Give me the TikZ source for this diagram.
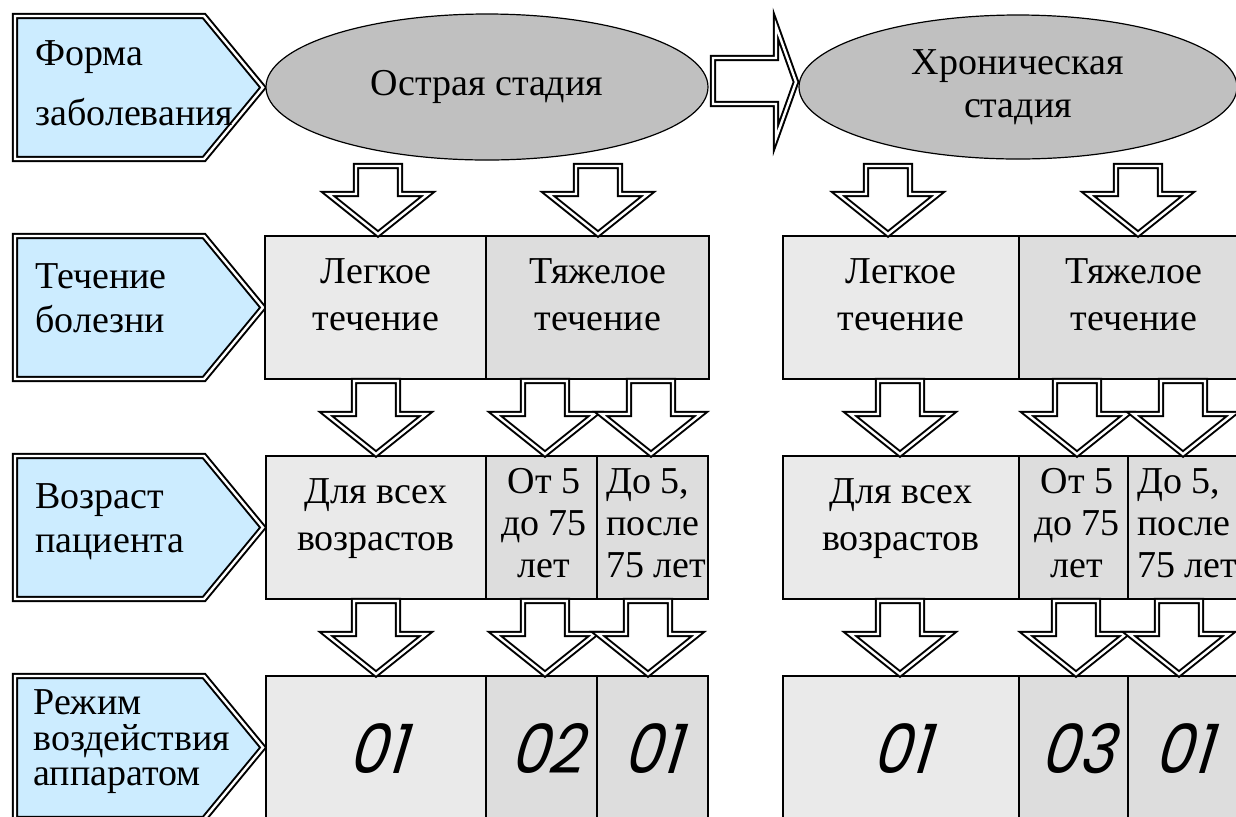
\documentclass[tikz,border=0pt]{standalone}
\usepackage{fontspec}
\setmainfont{Liberation Serif}
\newfontfamily\numfont{Poppins}[FakeSlant=0.3,FakeStretch=0.88]
\usetikzlibrary{shapes.geometric,fit}
\definecolor{lblue}{RGB}{204,236,255}
\definecolor{lg}{RGB}{234,234,234}
\definecolor{dg}{RGB}{221,221,221}
\definecolor{eg}{RGB}{192,192,192}
\tikzset{
  dbl/.style={draw=black, line width=1pt, double=white, double distance=1.2pt, line join=miter},
  lbl/.style={dbl, fill=lblue},
  barrow/.style={dbl, fill=white},
  box/.style={draw=black, line width=0.9pt, inner sep=0pt, rectangle},
  stage/.style={ellipse, draw=black, line width=0.6pt, fill=eg, inner sep=0pt,
    minimum width=221pt, minimum height=73pt, align=center},
  txt/.style={inner sep=0pt, anchor=base},
  txtl/.style={inner sep=0pt, anchor=base west},
  num/.style={inner sep=0pt, anchor=base, font=\numfont\fontsize{34}{34}\selectfont},
}
\newcommand\mlines[3]{{\fontsize{19}{#2}\selectfont\begin{tabular}[t]{@{}#1@{}}#3\end{tabular}}}
\newcommand\pent[2]{\draw[lbl] (15,#1) -- (204,#1) -- (263,{(#1+#2)/2}) -- (204,#2) -- (15,#2) -- cycle;}
\newcommand\darr[3]{\draw[barrow] (#1,#3) -- ++(-50,-40) -- ++(28,0) -- (#1-22,#2) -- (#1+22,#2) -- (#1+22,#3-40) -- ++(28,0) -- cycle;}
\begin{document}
\begin{tikzpicture}[x=0.5pt,y=-0.5pt]
\useasboundingbox (0,0) rectangle (1236,816);
\clip (0,0) rectangle (1236,816);
% left labels
\pent{16}{159}
\pent{236}{379}
\pent{456}{599}
\pent{676}{819}
\node[txtl] (l1) at (35,65) {\mlines{l}{30pt}{Форма\\заболевания}};
\node[txtl] (l2) at (35,288) {\mlines{l}{22pt}{Течение\\болезни}};
\node[txtl] (l3) at (35,508) {\mlines{l}{22pt}{Возраст\\пациента}};
\node[txtl] (l4) at (33,714) {\mlines{l}{17.5pt}{Режим\\воздействия\\аппаратом}};
% stages
\node[stage, font=\fontsize{19}{21.5}\selectfont] (e1) at (487,87) {Острая стадия};
\node[stage, minimum width=219pt, minimum height=72pt, font=\fontsize{19}{21.5}\selectfont] (e2) at (1018,87) {Хроническая\\стадия};
\draw[barrow] (796,82) -- (776,26) -- (776,58) -- (713,58) -- (713,104) -- (776,104) -- (776,138) -- cycle;
% row 2
\node[box, fill=lg, fit={(265,236) (486,379)}] (b2a) {};
\node[box, fill=dg, fit={(486,236) (709,379)}] (b2b) {};
\node[box, fill=lg, fit={(783,236) (1019,379)}] (b2c) {};
\node[box, fill=dg, fit={(1019,236) (1250,379)}] (b2d) {};
% row 3
\node[box, fill=lg, fit={(266,456) (486,599)}] (b3a) {};
\node[box, fill=dg, fit={(486,456) (597,599)}] (b3b) {};
\node[box, fill=dg, fit={(597,456) (708,599)}] (b3c) {};
\node[box, fill=lg, fit={(783,456) (1019,599)}] (b3d) {};
\node[box, fill=dg, fit={(1019,456) (1128,599)}] (b3e) {};
\node[box, fill=dg, fit={(1128,456) (1240,599)}] (b3f) {};
% row 4
\node[box, fill=lg, fit={(266,676) (486,840)}] (b4a) {};
\node[box, fill=dg, fit={(486,676) (597,840)}] (b4b) {};
\node[box, fill=dg, fit={(597,676) (708,840)}] (b4c) {};
\node[box, fill=lg, fit={(783,676) (1019,840)}] (b4d) {};
\node[box, fill=dg, fit={(1019,676) (1128,840)}] (b4e) {};
\node[box, fill=dg, fit={(1128,676) (1240,840)}] (b4f) {};
% arrows
\darr{378}{166}{234}
\darr{598}{166}{234}
\darr{888}{166}{234}
\darr{1138}{166}{234}
\darr{376}{381}{454}
\darr{545}{381}{454}
\darr{651}{381}{454}
\darr{900}{381}{454}
\darr{1077}{381}{454}
\darr{1183}{381}{454}
\darr{376}{601}{674}
\darr{545}{601}{674}
\darr{648}{601}{674}
\darr{900}{601}{674}
\darr{1076}{601}{674}
\darr{1179}{601}{674}
% texts
\node[txt] (t2a) at (376,283) {\mlines{c}{23.5pt}{Легкое\\течение}};
\node[txt] (t2b) at (598,283) {\mlines{c}{23.5pt}{Тяжелое\\течение}};
\node[txt] (t2c) at (901,283) {\mlines{c}{23.5pt}{Легкое\\течение}};
\node[txt] (t2d) at (1134,283) {\mlines{c}{23.5pt}{Тяжелое\\течение}};
\node[txt] (t3a) at (376,503) {\mlines{c}{23.5pt}{Для всех\\возрастов}};
\node[txt] (t3b) at (544,493) {\mlines{c}{21pt}{От 5\\до 75\\лет}};
\node[txtl] (t3c) at (606,493) {\mlines{l}{21pt}{До 5,\\после\\75 лет}};
\node[txt] (t3d) at (901,503) {\mlines{c}{23.5pt}{Для всех\\возрастов}};
\node[txt] (t3e) at (1077,493) {\mlines{c}{21pt}{От 5\\до 75\\лет}};
\node[txtl] (t3f) at (1137,493) {\mlines{l}{21pt}{До 5,\\после\\75 лет}};
\node[num] (n1) at (376,773) {01};
\node[num] (n2) at (545,773) {02};
\node[num] (n3) at (651,773) {01};
\node[num] (n4) at (900,773) {01};
\node[num] (n5) at (1076,773) {03};
\node[num] (n6) at (1182,773) {01};
\end{tikzpicture}
\end{document}
